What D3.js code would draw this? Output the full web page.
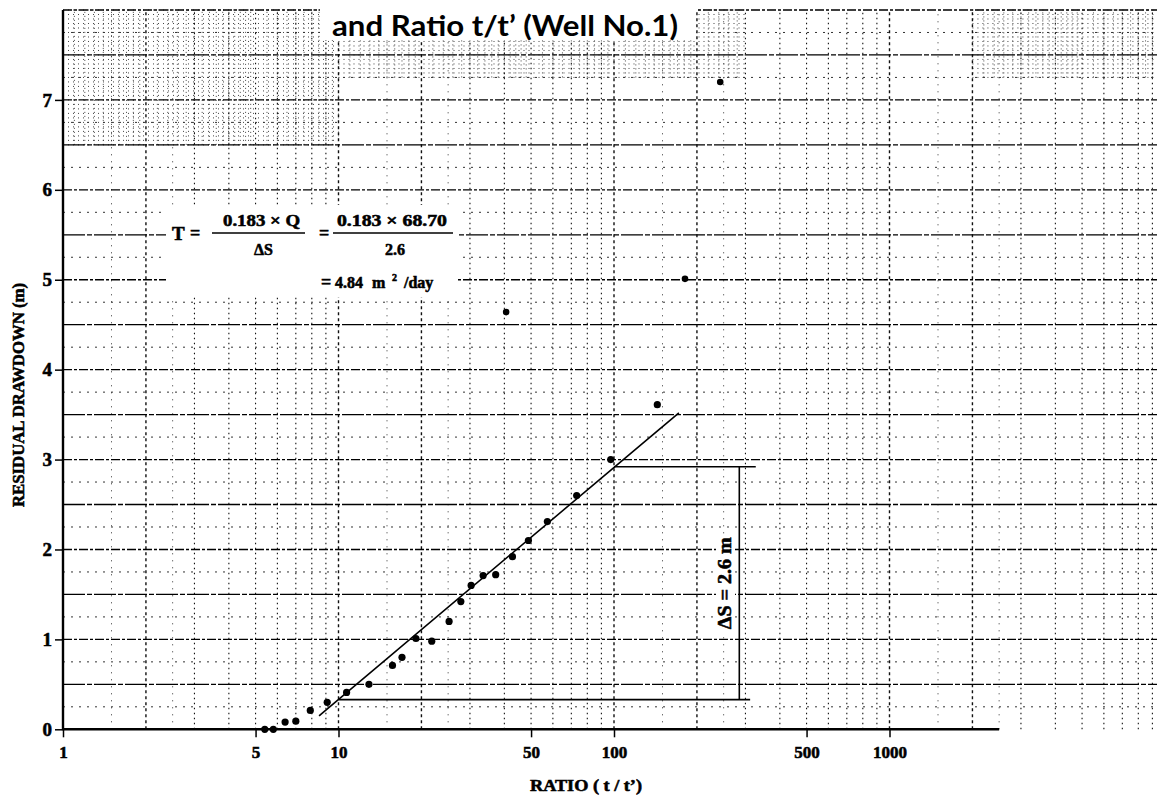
<!DOCTYPE html>
<html>
<head>
<meta charset="utf-8">
<script src="https://cdn.jsdelivr.net/npm/d3@7"></script>
<style>
  html, body { margin: 0; padding: 0; background: #fff; }
  svg { display: block; }
  text { font-family: "Liberation Serif", "DejaVu Serif", serif; font-weight: bold; fill: #000; }
  .heavy { stroke: #000; stroke-width: 0.55px; paint-order: stroke; }
</style>
</head>
<body>
<svg id="chart" width="1157" height="798"></svg>
<script>
// Recovery test, Well No.1: residual drawdown plotted against t/t' on semi-log paper

// observed residual drawdown (m) at each ratio t/t'
const ratio    = [5.4, 5.8, 6.4, 7.0, 7.9, 9.1, 10.7, 12.9, 15.7, 17.0, 19.1, 21.8, 25.2, 27.8, 30.3, 33.5, 37.2, 42.8, 48.9, 57.3, 73.2, 97.3, 143.6];
const drawdown = [0.0, 0.0, 0.08, 0.09, 0.21, 0.30, 0.41, 0.50, 0.71, 0.80, 1.01, 0.98, 1.20, 1.42, 1.60, 1.71, 1.72, 1.92, 2.10, 2.31, 2.60, 3.00, 3.61];

// readings lying off the straight-line trend
const outlierRatio    = [40.6, 181, 243];
const outlierDrawdown = [4.64, 5.01, 7.20];

// fitted straight line through the late-time data
const fitRatio    = [8.5, 172];
const fitDrawdown = [0.15, 3.52];

// ΔS construction over one log cycle (10 -> 100)
const cycleStart  = [10, 100];     // left ends of the lower / upper horizontals
const cycleEnd    = [312, 327];    // right ends of the lower / upper horizontals
const cycleLevel  = [0.33, 2.92];  // drawdown of the lower / upper horizontals
const cycleMarker = 285;           // t/t' of the vertical ΔS bar

// axis ticks
const xTicks = [1, 5, 10, 50, 100, 500, 1000];
const yTicks = [0, 1, 2, 3, 4, 5, 6, 7];

const W = 1157, H = 798;
const x = d3.scaleLog().domain([1, 10000]).range([63, 1165]);
const y = d3.scaleLinear().domain([0, 8]).range([729.3, 10]);

const svg = d3.select("#chart");
svg.append("rect").attr("width", W).attr("height", H).attr("fill", "#fff");

svg.append("defs").append("clipPath").attr("id", "plot")
  .append("rect").attr("x", 63).attr("y", 9).attr("width", W - 63).attr("height", 721);

const grid = svg.append("g").attr("clip-path", "url(#plot)");

// ---- semi-log graph paper ----
// fine sub-divisions of one decade
function subdivisions() {
  const s = [];
  for (let k = 1.1; k < 1.95; k += 0.1) s.push(+k.toFixed(2));
  for (let k = 2.2; k < 4.95; k += 0.2) s.push(+k.toFixed(2));
  for (let k = 5.5; k < 9.95; k += 0.5) s.push(+k.toFixed(2));
  return s;
}
const sub = subdivisions();

// dense ruling in the upper band of the sheet
const fineBands = [
  { t0: 1, t1: 10, v0: 6.5, v1: 8 },
  { t0: 10, t1: 300, v0: 7.25, v1: 8 },
  { t0: 2000, t1: 10000, v0: 7.25, v1: 8 }
];
fineBands.forEach(b => {
  for (let v = b.v0; v <= b.v1 + 1e-6; v += 0.05) {
    grid.append("line")
      .attr("x1", x(b.t0)).attr("x2", x(b.t1))
      .attr("y1", y(v)).attr("y2", y(v))
      .attr("stroke", "#444").attr("stroke-width", 1)
      .attr("stroke-dasharray", "1,4");
  }
  [1, 10, 100, 1000].forEach(d => {
    sub.forEach(k => {
      const t = k * d;
      if (t <= b.t0 || t >= b.t1) return;
      grid.append("line")
        .attr("x1", x(t)).attr("x2", x(t))
        .attr("y1", y(b.v0)).attr("y2", y(b.v1))
        .attr("stroke", "#444").attr("stroke-width", 1)
        .attr("stroke-dasharray", "1,3");
    });
  });
});

// vertical rulings at whole multiples of each decade
[1, 10, 100, 1000].forEach(d => {
  for (let k = 1; k <= 9; k++) {
    const t = k * d;
    if (t === 1) continue;
    grid.append("line")
      .attr("x1", x(t)).attr("x2", x(t))
      .attr("y1", y(0)).attr("y2", y(8))
      .attr("stroke", "#111").attr("stroke-width", k === 1 || k === 2 ? 1.4 : 1.1)
      .attr("stroke-dasharray", k === 1 || k === 2 ? "3,3" : "1.5,3.5");
  }
  [1.5, 2.5].forEach(k => {
    grid.append("line")
      .attr("x1", x(k * d)).attr("x2", x(k * d))
      .attr("y1", y(0)).attr("y2", y(8))
      .attr("stroke", "#333").attr("stroke-width", 1)
      .attr("stroke-dasharray", "1,6");
  });
});

// horizontal rulings every 0.25 m, heavier every 0.5 m
for (let i = 1; i <= 32; i++) {
  const v = i * 0.25;
  const major = i % 2 === 0;
  grid.append("line")
    .attr("x1", x(1)).attr("x2", W)
    .attr("y1", y(v)).attr("y2", y(v))
    .attr("stroke", major ? "#000" : "#333")
    .attr("stroke-width", major ? 1.3 : 1)
    .attr("stroke-dasharray", major ? (i % 4 === 0 ? "9,2,3,2" : "22,2,5,2") : "2,6");
}

// ---- title (lower line) ----
svg.append("rect").attr("x", 320).attr("y", 0).attr("width", 376).attr("height", 40).attr("fill", "#fff");
svg.append("text")
  .attr("x", 332).attr("y", 36)
  .attr("textLength", 346).attr("lengthAdjust", "spacingAndGlyphs")
  .style("font-family", "Lato, 'Open Sans', sans-serif")
  .style("font-size", "28px")
  .text("and Ratio t/t’ (Well No.1)");

// ---- transmissivity calculation ----
svg.append("rect").attr("x", 166).attr("y", 205).attr("width", 292).attr("height", 92).attr("fill", "#fff");
const calc = svg.append("g").attr("class", "heavy").style("font-size", "16px");
calc.append("text").attr("x", 172).attr("y", 240).style("font-size", "19px").text("T");
calc.append("text").attr("x", 190).attr("y", 239).style("font-size", "18px").text("=");
calc.append("line").attr("x1", 212).attr("x2", 305).attr("y1", 233).attr("y2", 233)
  .attr("stroke", "#000").attr("stroke-width", 1.6);
calc.append("text").attr("x", 261.5).attr("y", 226).attr("text-anchor", "middle")
  .attr("textLength", 77).attr("lengthAdjust", "spacingAndGlyphs").text("0.183 × Q");
calc.append("text").attr("x", 263.5).attr("y", 255).attr("text-anchor", "middle").text("ΔS");
calc.append("text").attr("x", 319).attr("y", 239).style("font-size", "18px").text("=");
calc.append("line").attr("x1", 333).attr("x2", 453).attr("y1", 233).attr("y2", 233)
  .attr("stroke", "#000").attr("stroke-width", 1.6);
calc.append("text").attr("x", 392).attr("y", 226).attr("text-anchor", "middle")
  .attr("textLength", 110).attr("lengthAdjust", "spacingAndGlyphs").text("0.183 × 68.70");
calc.append("text").attr("x", 395).attr("y", 255).attr("text-anchor", "middle").text("2.6");
const res = calc.append("text").attr("y", 288);
res.append("tspan").attr("x", 321).style("font-size", "18px").text("=");
res.append("tspan").attr("x", 335).text("4.84");
res.append("tspan").attr("x", 372).text("m");
res.append("tspan").attr("x", 392).attr("y", 281).style("font-size", "10px").text("2");
res.append("tspan").attr("x", 404).attr("y", 288).text("/day");

// ---- axes ----
const xAxis = d3.axisBottom(x).tickValues(xTicks).tickFormat(d3.format("d")).tickSize(8).tickPadding(9);
const gx = svg.append("g").attr("transform", `translate(0,${y(0)})`).call(xAxis);
gx.select(".domain").remove();
gx.selectAll(".tick line").attr("stroke", "#000").attr("stroke-width", 1.5);
gx.selectAll(".tick text").attr("class", "heavy")
  .style("font-size", "17px").style("font-family", "'Liberation Serif', serif").style("font-weight", "bold");

const yAxis = d3.axisLeft(y).tickValues(yTicks).tickFormat(d3.format("d")).tickSize(8).tickPadding(3);
const gy = svg.append("g").attr("transform", `translate(${x(1)},0)`).call(yAxis);
gy.select(".domain").remove();
gy.selectAll(".tick line").attr("stroke", "#000").attr("stroke-width", 1.5);
gy.selectAll(".tick text").attr("class", "heavy")
  .style("font-size", "19px").style("font-family", "'Liberation Serif', serif").style("font-weight", "bold");

// axis lines
svg.append("line").attr("x1", x(1)).attr("x2", x(2500)).attr("y1", y(0)).attr("y2", y(0))
  .attr("stroke", "#000").attr("stroke-width", 2.4);
svg.append("line").attr("x1", x(1)).attr("x2", x(1)).attr("y1", y(0) + 1).attr("y2", y(8))
  .attr("stroke", "#000").attr("stroke-width", 2.4);

// axis titles
svg.append("text").attr("class", "heavy")
  .attr("transform", `translate(18,${395}) rotate(-90)`)
  .attr("text-anchor", "middle").attr("dy", "0.35em")
  .attr("textLength", 224).attr("lengthAdjust", "spacingAndGlyphs")
  .style("font-size", "16px")
  .text("RESIDUAL DRAWDOWN (m)");
svg.append("text").attr("class", "heavy")
  .attr("x", 586).attr("y", 791).attr("text-anchor", "middle")
  .attr("textLength", 112).attr("lengthAdjust", "spacingAndGlyphs")
  .style("font-size", "16px")
  .text("RATIO ( t / t’)");

// ---- fitted line and ΔS construction ----
const lineGen = d3.line().x(d => x(d[0])).y(d => y(d[1]));
svg.append("path")
  .attr("d", lineGen(fitRatio.map((t, i) => [t, fitDrawdown[i]])))
  .attr("fill", "none").attr("stroke", "#000").attr("stroke-width", 1.6);

const cons = svg.append("g").attr("stroke", "#000").attr("stroke-width", 1.6);
cycleStart.forEach((t, i) => {
  cons.append("line")
    .attr("x1", x(t)).attr("x2", x(cycleEnd[i]))
    .attr("y1", y(cycleLevel[i])).attr("y2", y(cycleLevel[i]));
});
cons.append("line")
  .attr("x1", x(cycleMarker)).attr("x2", x(cycleMarker))
  .attr("y1", y(cycleLevel[0])).attr("y2", y(cycleLevel[1]));

// ΔS label beside the vertical bar
const dsY = (y(cycleLevel[0]) + y(cycleLevel[1])) / 2;
svg.append("rect").attr("x", 716).attr("y", dsY - 49).attr("width", 19).attr("height", 98).attr("fill", "#fff");
svg.append("text").attr("class", "heavy")
  .attr("transform", `translate(725,${dsY}) rotate(-90)`)
  .attr("text-anchor", "middle").attr("dy", "0.35em")
  .attr("textLength", 92).attr("lengthAdjust", "spacingAndGlyphs")
  .style("font-size", "18px")
  .text("ΔS = 2.6 m");

// ---- observations ----
svg.append("g").selectAll("circle.obs")
  .data(ratio.map((t, i) => [t, drawdown[i]]))
  .join("circle").attr("class", "obs")
  .attr("cx", d => x(d[0])).attr("cy", d => y(d[1])).attr("r", 3.6).attr("fill", "#000");

svg.append("g").selectAll("circle.out")
  .data(outlierRatio.map((t, i) => [t, outlierDrawdown[i]]))
  .join("circle").attr("class", "out")
  .attr("cx", d => x(d[0])).attr("cy", d => y(d[1])).attr("r", 3.3).attr("fill", "#000");
</script>
</body>
</html>
